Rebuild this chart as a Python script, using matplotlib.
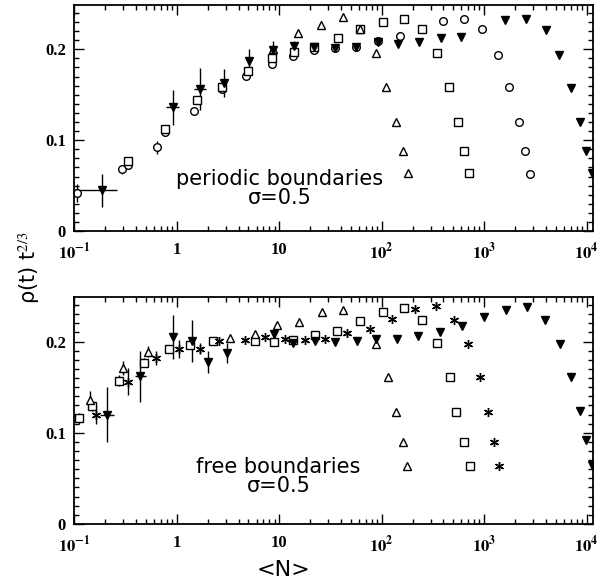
import matplotlib
matplotlib.use('Agg')
import matplotlib.pyplot as plt
import matplotlib.ticker as mt

plt.rcParams['mathtext.fontset'] = 'stix'

# ---- periodic boundaries (top panel) ----
p_circ_x = [0.107, 0.289, 0.33, 0.636, 0.76, 1.47, 2.76, 4.7, 8.4, 13.7, 22, 35, 56, 93, 150,
            400, 630, 960, 1360, 1760, 2170, 2490, 2780]
p_circ_y = [0.042, 0.068, 0.073, 0.092, 0.109, 0.132, 0.156, 0.171, 0.184, 0.193, 0.199, 0.201,
            0.203, 0.209, 0.215, 0.231, 0.233, 0.222, 0.194, 0.158, 0.120, 0.088, 0.063]
p_circ_err = [0.010, 0.005, 0.004, 0.007, 0.004, 0.003, 0.003, 0.003, 0.003, 0.003, 0, 0,
              0, 0, 0, 0, 0, 0, 0, 0, 0, 0, 0]

p_sq_x = [0.33, 0.76, 1.59, 2.76, 4.9, 8.5, 14, 22, 37.6, 62, 104, 165, 250, 350, 455, 560, 630, 710]
p_sq_y = [0.077, 0.112, 0.144, 0.158, 0.176, 0.190, 0.197, 0.202, 0.212, 0.222, 0.230, 0.233,
          0.222, 0.196, 0.158, 0.120, 0.088, 0.064]

p_tri_x = [8.6, 15.3, 25.7, 41.6, 62, 87, 111, 137, 160, 179]
p_tri_y = [0.200, 0.218, 0.227, 0.235, 0.222, 0.196, 0.158, 0.120, 0.088, 0.064]

p_dn_x = [0.188, 0.91, 1.68, 2.9, 5.1, 8.6, 14, 22, 35, 56, 93, 145, 230, 380, 600,
          1600, 2580, 3980, 5360, 7050, 8700, 9900, 11300]
p_dn_y = [0.045, 0.136, 0.156, 0.163, 0.187, 0.199, 0.204, 0.203, 0.201, 0.202, 0.208, 0.206,
          0.208, 0.212, 0.214, 0.232, 0.233, 0.221, 0.194, 0.157, 0.120, 0.088, 0.064]
p_dn_err = [0.018, 0.019, 0.023, 0.015, 0.013, 0.010, 0.005, 0.004, 0, 0, 0, 0,
            0, 0, 0, 0, 0, 0, 0, 0, 0, 0, 0]
p_dn_xlo = [0.088, 0.12, 0.20, 0, 0, 0, 0, 0, 0, 0, 0, 0, 0, 0, 0, 0, 0, 0, 0, 0, 0, 0, 0]
p_dn_xhi = [0.070, 0.14, 0.25, 0, 0, 0, 0, 0, 0, 0, 0, 0, 0, 0, 0, 0, 0, 0, 0, 0, 0, 0, 0]

# ---- free boundaries (bottom panel) ----
f_sq_x = [0.11, 0.15, 0.27, 0.48, 0.83, 1.34, 2.24, 5.8, 8.9, 13.6, 22.3, 37, 62, 104, 165,
          250, 345, 460, 530, 630, 720]
f_sq_y = [0.116, 0.129, 0.157, 0.177, 0.192, 0.196, 0.201, 0.201, 0.200, 0.202, 0.207, 0.212,
          0.223, 0.233, 0.237, 0.224, 0.198, 0.161, 0.123, 0.090, 0.063]
f_sq_err = [0.006, 0.005, 0.006, 0.005, 0.004, 0.004, 0.003, 0, 0, 0, 0, 0,
            0, 0, 0, 0, 0, 0, 0, 0, 0]

f_ast_x = [0.164, 0.337, 0.62, 1.04, 1.67, 2.6, 4.6, 7.2, 11.4, 17.9, 28, 46, 76, 125, 213,
           337, 506, 690, 910, 1090, 1250, 1400]
f_ast_y = [0.120, 0.156, 0.182, 0.192, 0.192, 0.201, 0.202, 0.205, 0.203, 0.202, 0.203, 0.209,
           0.214, 0.225, 0.236, 0.239, 0.224, 0.197, 0.161, 0.123, 0.090, 0.063]
f_ast_err = [0.010, 0.015, 0.008, 0.010, 0.006, 0, 0, 0, 0, 0, 0, 0,
             0, 0, 0, 0, 0, 0, 0, 0, 0, 0]

f_tri_x = [0.143, 0.295, 0.52, 3.3, 5.8, 9.5, 15.7, 26.4, 41.5, 87, 115, 137, 160, 178]
f_tri_y = [0.136, 0.171, 0.189, 0.204, 0.208, 0.218, 0.222, 0.233, 0.235, 0.197, 0.161, 0.123,
           0.090, 0.063]
f_tri_err = [0.010, 0.008, 0.006, 0, 0, 0, 0, 0, 0, 0, 0, 0, 0, 0]

f_dn_x = [0.206, 0.44, 0.91, 1.4, 2.0, 3.1, 8.9, 13.6, 22.3, 35, 57, 88, 140, 228, 370, 610,
          1000, 1640, 2620, 3950, 5550, 7100, 8700, 9900, 11400]
f_dn_y = [0.120, 0.162, 0.205, 0.201, 0.178, 0.187, 0.208, 0.198, 0.201, 0.200, 0.201, 0.203,
          0.203, 0.206, 0.211, 0.217, 0.227, 0.235, 0.238, 0.224, 0.197, 0.161, 0.124, 0.092, 0.065]
f_dn_err = [0.030, 0.028, 0.024, 0.023, 0.012, 0.011, 0.005, 0, 0, 0, 0, 0,
            0, 0, 0, 0, 0, 0, 0, 0, 0, 0, 0, 0, 0]
f_dn_xlo = [0.03, 0.05, 0, 0, 0, 0, 0, 0, 0, 0, 0, 0, 0, 0, 0, 0, 0, 0, 0, 0, 0, 0, 0, 0, 0]
f_dn_xhi = [0.04, 0.06, 0, 0, 0, 0, 0, 0, 0, 0, 0, 0, 0, 0, 0, 0, 0, 0, 0, 0, 0, 0, 0, 0, 0]

xtick_vals = [0.1, 1, 10, 100, 1000, 10000]
xtick_labels = [r'$\mathbf{10^{-1}}$', '1', '10', r'$\mathbf{10^{2}}$',
                r'$\mathbf{10^{3}}$', r'$\mathbf{10^{4}}$']
ytick_vals = [0, 0.1, 0.2]
ytick_labels = ['0', '0.1', '0.2']

fig = plt.figure(figsize=(6.0, 5.88), dpi=100)
ax1 = fig.add_axes([0.124, 0.607, 0.864, 0.385])
ax2 = fig.add_axes([0.124, 0.109, 0.864, 0.386])

kw = dict(linestyle='none', color='black', ecolor='black', elinewidth=1.0, capsize=0)


def open_pts(ax, x, y, m, ms, err=None, xerr=None, filled=False):
    ax.errorbar(x, y, yerr=err, xerr=xerr, marker=m, markersize=ms,
                markerfacecolor='black' if filled else 'white',
                markeredgecolor='black', markeredgewidth=1.0, **kw)


open_pts(ax1, p_circ_x, p_circ_y, 'o', 5.5, err=p_circ_err)
open_pts(ax1, p_sq_x, p_sq_y, 's', 5.2)
open_pts(ax1, p_tri_x, p_tri_y, '^', 5.2)
open_pts(ax1, p_dn_x, p_dn_y, 'v', 5.8, err=p_dn_err, xerr=[p_dn_xlo, p_dn_xhi], filled=True)

open_pts(ax2, f_sq_x, f_sq_y, 's', 5.2, err=f_sq_err)
open_pts(ax2, f_ast_x, f_ast_y, (6, 2, 0), 6.5, err=f_ast_err)
open_pts(ax2, f_tri_x, f_tri_y, '^', 5.2, err=f_tri_err)
open_pts(ax2, f_dn_x, f_dn_y, 'v', 5.8, err=f_dn_err, xerr=[f_dn_xlo, f_dn_xhi], filled=True)

ax1.text(0.396, 0.275, 'periodic boundaries\nσ=0.5', transform=ax1.transAxes, ha='center',
         va='top', multialignment='center', linespacing=0.95, fontsize=15)
ax2.text(0.394, 0.295, 'free boundaries\nσ=0.5', transform=ax2.transAxes, ha='center',
         va='top', multialignment='center', linespacing=0.95, fontsize=15)

for ax in (ax1, ax2):
    ax.set_xscale('log')
    ax.set_xlim(0.1, 11500)
    ax.set_ylim(0, 0.249)
    ax.set_xticks(xtick_vals)
    ax.set_xticklabels(xtick_labels)
    ax.xaxis.set_minor_locator(mt.LogLocator(base=10, subs=range(2, 10), numticks=20))
    ax.xaxis.set_minor_formatter(mt.NullFormatter())
    ax.set_yticks(ytick_vals)
    ax.set_yticklabels(ytick_labels)
    ax.yaxis.set_minor_locator(mt.MultipleLocator(0.01))
    ax.tick_params(which='both', direction='in', top=True, right=True, width=1.0)
    ax.tick_params(which='major', length=7, labelsize=12)
    ax.tick_params(axis='x', which='major', pad=8)
    ax.tick_params(axis='y', which='major', pad=6)
    ax.tick_params(which='minor', length=3.5)
    for lab in ax.get_xticklabels() + ax.get_yticklabels():
        lab.set_family('Liberation Serif')
        lab.set_weight('bold')
    for sp in ax.spines.values():
        sp.set_linewidth(1.3)

fig.text(0.473, 0.031, '<N>', ha='center', va='center', fontsize=16)
fig.text(0.048, 0.545, 'ρ(t) t$^{2/3}$', rotation=90, ha='center', va='center',
         fontsize=15)

fig.savefig('out.png', dpi=100)
